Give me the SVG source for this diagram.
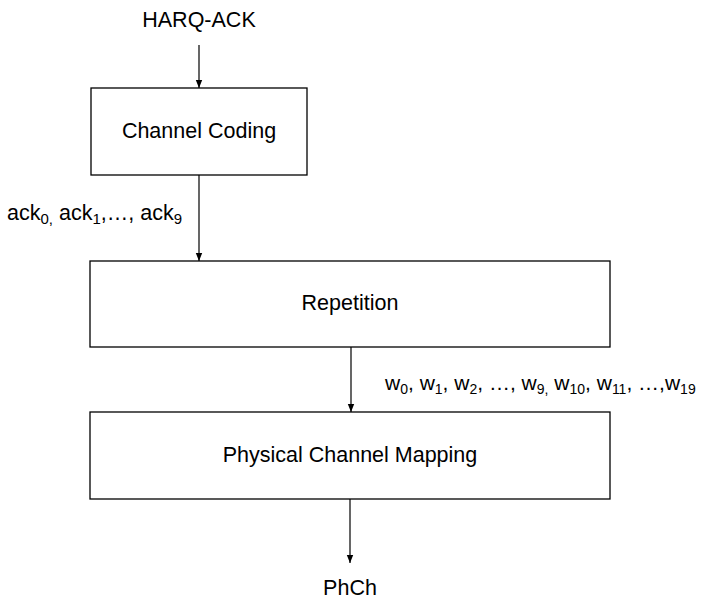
<svg xmlns="http://www.w3.org/2000/svg" width="704" height="601" viewBox="0 0 704 601">
<style>
.box{fill:#fff;stroke:#000;stroke-width:1.3}
.t{font-family:"Liberation Sans",Arial,sans-serif;font-size:21.5px;fill:#000}
.c{text-anchor:middle}
.s{font-size:15px}
.w{font-size:21px}
.w .s{font-size:14px}
.ln{stroke:#000;stroke-width:1.2;fill:none}
</style>
<defs>
<marker id="ah" viewBox="0 0 10 10" refX="10" refY="5" markerWidth="8" markerHeight="8" markerUnits="userSpaceOnUse" orient="auto">
<path d="M0,1 L10,5 L0,9 Z" fill="#000"/>
</marker>
</defs>
<rect width="704" height="601" fill="#fff"/>
<g id="connectors">
<line class="ln" x1="199" y1="45" x2="199" y2="88" marker-end="url(#ah)"/>
<line class="ln" x1="199" y1="175" x2="199" y2="261" marker-end="url(#ah)"/>
<line class="ln" x1="351" y1="347" x2="351" y2="412" marker-end="url(#ah)"/>
<line class="ln" x1="350" y1="499" x2="350" y2="563" marker-end="url(#ah)"/>
</g>
<g id="input"><text class="t c" x="199" y="27">HARQ-ACK</text></g>
<g id="channel-coding">
<rect class="box" x="91" y="88" width="216" height="87"/>
<text class="t c" x="199" y="138">Channel Coding</text>
</g>
<g id="ack-label">
<text class="t" x="7" y="220">ack<tspan class="s" dy="4">0,</tspan><tspan dy="-4"> ack</tspan><tspan class="s" dy="4">1</tspan><tspan dy="-4">,…, ack</tspan><tspan class="s" dy="4">9</tspan></text>
</g>
<g id="repetition">
<rect class="box" x="90" y="261" width="520" height="86"/>
<text class="t c" x="350" y="310">Repetition</text>
</g>
<g id="w-label">
<text class="t w" x="385" y="390">w<tspan class="s" dy="4">0</tspan><tspan dy="-4">, w</tspan><tspan class="s" dy="4">1</tspan><tspan dy="-4">, w</tspan><tspan class="s" dy="4">2</tspan><tspan dy="-4">, …, w</tspan><tspan class="s" dy="4">9,</tspan><tspan dy="-4"> w</tspan><tspan class="s" dy="4">10</tspan><tspan dy="-4">, w</tspan><tspan class="s" dy="4">11</tspan><tspan dy="-4">, …,w</tspan><tspan class="s" dy="4">19</tspan></text>
</g>
<g id="physical-channel-mapping">
<rect class="box" x="90" y="412" width="520" height="87"/>
<text class="t c" x="350" y="462">Physical Channel Mapping</text>
</g>
<g id="output"><text class="t c" x="350" y="595">PhCh</text></g>
</svg>
